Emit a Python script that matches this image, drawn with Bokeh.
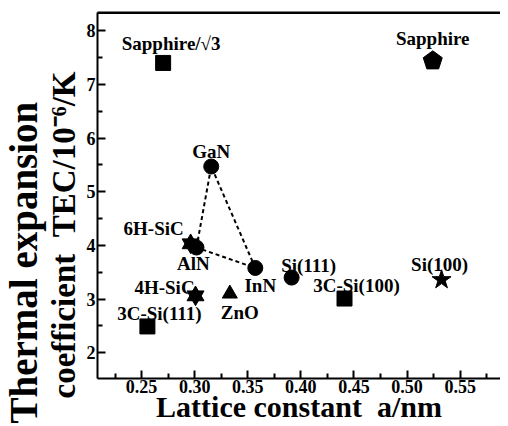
from bokeh.plotting import figure
from bokeh.models import Range1d, LinearAxis, FixedTicker, ColumnDataSource, Title, Span
from bokeh.embed import file_html
from bokeh.resources import INLINE
from bokeh.core.properties import value

# ---- data ----
materials = ["Sapphire/\u221a3", "Sapphire", "GaN", "6H-SiC", "AlN", "InN",
             "4H-SiC", "ZnO", "3C-Si(111)", "Si(111)", "3C-Si(100)", "Si(100)"]
lattice_a = [0.2703, 0.5242, 0.3156, 0.2962, 0.3017, 0.3571,
             0.3008, 0.3331, 0.2555, 0.3913, 0.4411, 0.5325]
tec = [7.40, 7.44, 5.47, 4.03, 3.96, 3.58,
       3.06, 3.10, 2.49, 3.40, 3.01, 3.36]
markers = ["square", "pentagon", "circle", "hexagram", "circle", "circle",
           "hexagram", "triangle", "square", "circle", "square", "star"]
# dashed triangle between the nitrides
tri_names = ["AlN", "GaN", "InN", "AlN"]

x_ticks = [0.25, 0.30, 0.35, 0.40, 0.45, 0.50, 0.55]
x_tick_labels = ["0.25", "0.30", "0.35", "0.40", "0.45", "0.50", "0.55"]
x_minor = [0.225, 0.275, 0.325, 0.375, 0.425, 0.475, 0.525, 0.575]
y_ticks = [2, 3, 4, 5, 6, 7, 8]
y_tick_labels = ["2", "3", "4", "5", "6", "7", "8"]
y_minor = [2.5, 3.5, 4.5, 5.5, 6.5, 7.5]

x_title = "Lattice constant\u00a0\u00a0a/nm"
y_title_1 = "Thermal expansion"
y_title_2 = "coefficient\u00a0\u00a0TEC/10\u207b\u2076/K"

# label offsets in screen pixels (style)
lab_dx = [8, 0, 0, -37, -3, 5, -31, 10, 12, 17, 12, -2]
lab_dy = [-19, -22, -15, -15, 16, 18, -8, 19, -13, -12, -13, -15]

FONT = "Liberation Serif"
X0, X1 = 0.2085, 0.588
Y0, Y1 = 1.52, 8.34

p = figure(width=500, height=426, output_backend="svg", toolbar_location=None,
           x_range=Range1d(X0, X1), y_range=Range1d(Y0, Y1),
           min_border_left=89, min_border_right=0, min_border_top=12,
           min_border_bottom=48)
p.grid.visible = False
p.outline_line_color = None
p.background_fill_color = "white"

xa = p.xaxis[0]
xa.ticker = FixedTicker(ticks=x_ticks, minor_ticks=x_minor)
xa.major_label_overrides = {t: l for t, l in zip(x_ticks, x_tick_labels)}
ya = p.yaxis[0]
ya.ticker = FixedTicker(ticks=y_ticks, minor_ticks=y_minor)
ya.major_label_overrides = {t: l for t, l in zip(y_ticks, y_tick_labels)}

for ax in (xa, ya):
    ax.axis_line_width = 2
    ax.major_tick_line_width = 2
    ax.minor_tick_line_width = 2
    ax.major_tick_in = 8
    ax.major_tick_out = 0
    ax.minor_tick_in = 5
    ax.minor_tick_out = 0
    ax.major_label_text_font = FONT
    ax.major_label_text_font_style = "bold"
    ax.major_label_text_font_size = "18px"
    ax.major_label_text_color = "black"
    ax.major_label_standoff = 2

xa.major_label_standoff = 1
xa.axis_label = x_title
xa.axis_label_text_font = FONT
xa.axis_label_text_font_style = "bold"
xa.axis_label_text_font_size = "30px"
xa.axis_label_text_color = "black"
xa.axis_label_standoff = -6

# top border line
top = LinearAxis(ticker=FixedTicker(ticks=[]), axis_line_width=2,
                 major_tick_line_color=None, minor_tick_line_color=None,
                 major_label_text_font_size="0px", major_label_standoff=0)
p.add_layout(top, "above")
p.add_layout(Span(location=Y1, dimension="width", line_color="black", line_width=3))

# y titles (two lines)
tcommon = dict(text_font=FONT, text_font_style="bold", text_color="black",
               align="left", standoff=0, text_line_height=0.7)
p.add_layout(Title(text=y_title_2, text_font_size="33px", offset=-20,
                   vertical_align="top", **tcommon), "left")
p.add_layout(Title(text=y_title_1, text_font_size="39px", offset=-45,
                   vertical_align="middle", **tcommon), "left")

# dashed triangle
idx = [materials.index(n) for n in tri_names]
p.line([lattice_a[i] for i in idx], [tec[i] for i in idx],
       line_color="black", line_width=2, line_dash="4 3")

def sel(kind):
    ii = [i for i, m in enumerate(markers) if m == kind]
    return [lattice_a[i] for i in ii], [tec[i] for i in ii]

xs, ys = sel("square")
p.scatter(xs, ys, marker="square", size=15, color="black")
xs, ys = sel("circle")
p.scatter(xs, ys, marker="circle", size=15, color="black")
xs, ys = sel("triangle")
p.scatter(xs, ys, marker="triangle", size=15, color="black")
xs, ys = sel("star")
p.scatter(xs, ys, marker="star", size=20, color="black")
xs, ys = sel("hexagram")
p.scatter(xs, ys, marker="triangle", size=17, color="black")
p.scatter(xs, ys, marker="inverted_triangle", size=17, color="black")
xs, ys = sel("pentagon")
p.ngon(xs, ys, radius=10, radius_units="screen", n=5, color="black")

src = ColumnDataSource(dict(x=lattice_a, y=tec, t=materials, dx=lab_dx, dy=lab_dy))
p.text("x", "y", text="t", x_offset="dx", y_offset="dy", source=src,
       text_font=value(FONT), text_font_style="bold", text_font_size="19px",
       text_align="center", text_baseline="middle", text_color="black")

open("out.html", "w").write(file_html(p, INLINE))
